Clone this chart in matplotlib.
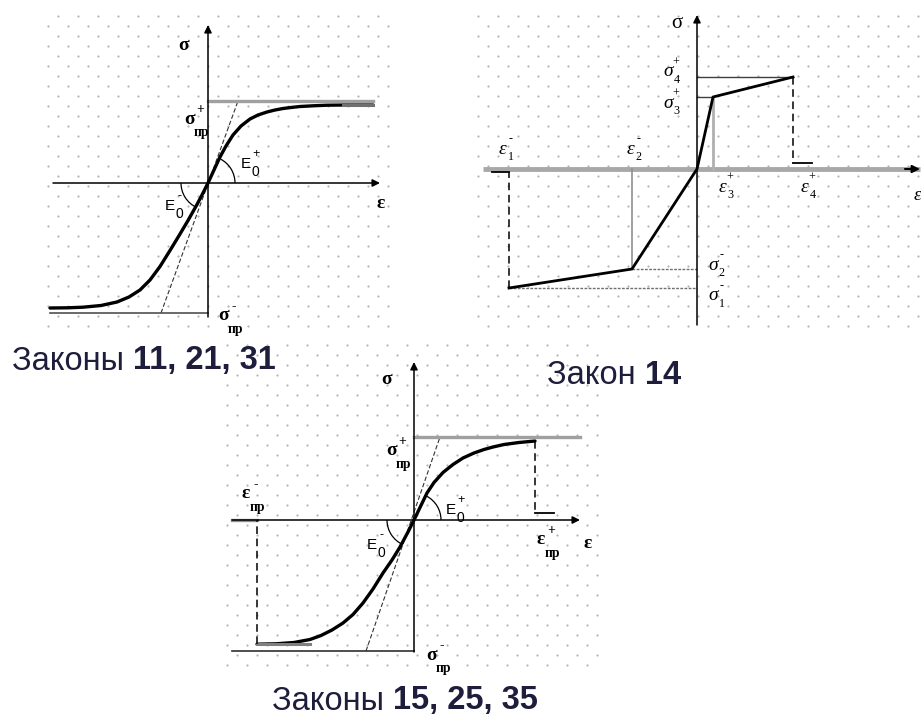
import matplotlib.pyplot as plt
from matplotlib.patches import Arc

W, H = 921, 720
INK = '#1e1e3c'
SERIF = 'Liberation Serif'
SANS = 'Liberation Sans'

# ---- Laws 11, 21, 31  (1 unit = 10 px) ----
p1_sig_pos, p1_sig_neg = 8.2, -13.0
p1_up_x = [0, 0.6, 1.2, 1.8, 2.5, 3.3, 4.2, 5.0, 5.9, 6.7, 7.5, 8.3, 9.2, 10.5, 11.9, 13.5, 16.5]
p1_up_y = [0, 1.3, 2.6, 3.7, 4.8, 5.7, 6.4, 6.8, 7.1, 7.3, 7.45, 7.55, 7.65, 7.72, 7.78, 7.8, 7.8]
p1_lo_x = [0, -0.5, -1.1, -2.0, -2.8, -3.8, -4.8, -5.8, -6.8, -7.9, -9.1, -10.7, -12.5, -14.0, -15.8]
p1_lo_y = [0, -1.0, -2.15, -3.75, -5.1, -6.75, -8.35, -9.7, -10.7, -11.4, -11.9, -12.25, -12.42, -12.48, -12.5]
p1_tan = (-4.7, 3.0)          # tangent E0 between the two limit lines
p1_xaxis = (-15.5, 17.2)
p1_yaxis = (-13.4, 15.8)
p1_left, p1_right = -15.8, 16.5

# ---- Law 14 ----
p2_eps = [-18.8, -6.5, 0.0, 1.6, 9.6]
p2_sig = [-11.9, -10.0, 0.0, 7.2, 9.2]
p2_xaxis = (-21.4, 22.3)
p2_yaxis = (-15.6, 15.4)

# ---- Laws 15, 25, 35 ----
p3_sig_pos, p3_sig_neg = 8.3, -13.1
p3_up_x = [0, 0.6, 1.3, 2.0, 2.9, 3.9, 4.9, 6.0, 7.0, 7.9, 9.0, 10.5, 12.1]
p3_up_y = [0, 1.25, 2.7, 3.75, 4.75, 5.55, 6.2, 6.7, 7.05, 7.3, 7.55, 7.75, 7.9]
p3_lo_x = [0, -0.6, -1.4, -2.2, -3.1, -4.1, -5.1, -6.1, -7.1, -8.2, -9.3, -10.4, -12.0, -13.8, -15.7]
p3_lo_y = [0, -1.2, -2.7, -4.0, -5.3, -6.9, -8.3, -9.45, -10.3, -11.0, -11.55, -11.95, -12.25, -12.38, -12.42]
p3_tan = (-4.8, 2.6)
p3_xaxis = (-18.2, 16.6)
p3_yaxis = (-13.2, 15.8)

fig = plt.figure(figsize=(W / 100, H / 100), dpi=100)
bg = fig.add_axes([0, 0, 1, 1])
bg.set_xlim(0, W)
bg.set_ylim(H, 0)
bg.axis('off')


def dot_field(x0, x1, y0, y1, xs):
    xs_all, ys_all = [], []
    y, row = y0, 0
    while y <= y1:
        x = xs + 10 * (row % 2)
        while x <= x1:
            if x >= x0:
                xs_all.append(x)
                ys_all.append(y)
            x += 20
        y += 10
        row += 1
    bg.plot(xs_all, ys_all, 'o', ms=1.6, mew=0, color='#b4b4b4')


dot_field(40, 392, 16, 334, 18)
dot_field(476, 921, 16, 334, 478)
dot_field(226, 600, 345, 668, 227)


def panel(x0, y0, x1, y1, ox, oy, unit=10):
    ax = fig.add_axes([x0 / W, 1 - y1 / H, (x1 - x0) / W, (y1 - y0) / H])
    ax.set_xlim((x0 - ox) / unit, (x1 - ox) / unit)
    ax.set_ylim((oy - y1) / unit, (oy - y0) / unit)
    ax.axis('off')
    return ax


def arrow(ax, start, end, color='k', lw=1.1):
    ax.annotate('', xy=end, xytext=start,
                arrowprops=dict(arrowstyle='-|>', lw=lw, color=color,
                                mutation_scale=11, shrinkA=0, shrinkB=0))


def sym(ax, x, y, base, sup=None, sub=None, size=14, style='normal',
        weight='bold', dx_sup=0.5, dx_sub=0.6, dy_sub=-0.7, small=0.7):
    ax.text(x, y, base, fontsize=size, family=SERIF, style=style,
            weight=weight, ha='center', va='center')
    if sup:
        ax.annotate(sup, (x, y), xytext=(dx_sup * size, 0.5 * size),
                    textcoords='offset points', fontsize=size * small,
                    family=SERIF, weight=weight, ha='center', va='center')
    if sub:
        ax.annotate(sub, (x, y), xytext=(dx_sub * size, dy_sub * size),
                    textcoords='offset points', fontsize=size * small,
                    family=SERIF, weight=weight, ha='center', va='center')


def modulus(ax, x, y, sup):
    ax.text(x, y, 'E', fontsize=11, family=SANS, ha='center', va='center')
    ax.annotate(sup, (x, y), xytext=(7, 7), textcoords='offset points',
                fontsize=9, family=SANS, ha='center', va='center')
    ax.annotate('0', (x, y), xytext=(7, -6), textcoords='offset points',
                fontsize=10, family=SANS, ha='center', va='center')


def title(x, y, word, nums):
    t = bg.text(x, y, word, fontsize=23.5, family=SANS, color=INK,
                ha='left', va='center')
    bg.annotate(nums, xy=(1, 0), xycoords=t, fontsize=23.5, family=SANS,
                weight='bold', color=INK, ha='left', va='bottom')


def s_curve(ax, up_x, up_y, lo_x, lo_y, sig_pos, sig_neg, tan, xaxis, yaxis):
    arrow(ax, (xaxis[0], 0), (xaxis[1], 0))
    arrow(ax, (0, yaxis[0]), (0, yaxis[1]))
    ax.plot([tan[0], tan[1]], [sig_neg, sig_pos], color='#333333', lw=0.8,
            ls=(0, (4, 2)))
    ax.plot(list(reversed(lo_x)) + up_x[1:], list(reversed(lo_y)) + up_y[1:],
            color='k', lw=2.4, solid_joinstyle='round', solid_capstyle='round')
    ax.add_patch(Arc((0, 0), 5.4, 5.4, theta1=0, theta2=62, lw=0.9))
    ax.add_patch(Arc((0, 0), 5.4, 5.4, theta1=180, theta2=245, lw=0.9))


# ---- panel 1 ----
a1 = panel(0, 0, 400, 340, 208, 183)
s_curve(a1, p1_up_x, p1_up_y, p1_lo_x, p1_lo_y, p1_sig_pos, p1_sig_neg,
        p1_tan, p1_xaxis, p1_yaxis)
a1.plot([0, p1_right], [p1_sig_pos, p1_sig_pos], color='#a0a0a0', lw=2.4)
a1.plot([p1_up_x[-2], p1_right], [p1_up_y[-1], p1_up_y[-1]], color='#707070', lw=2.2)
a1.plot([p1_left, 0], [p1_sig_neg, p1_sig_neg], color='#505050', lw=1.2)
sym(a1, -2.4, 13.8, 'σ')
sym(a1, -1.8, 6.4, 'σ', '+', 'пр')
sym(a1, 1.6, -13.3, 'σ', '-', 'пр')
sym(a1, 17.3, -2.0, 'ε')
modulus(a1, 3.8, 1.9, '+')
modulus(a1, -3.8, -2.3, '-')

# ---- panel 2 ----
a2 = panel(470, 0, 921, 340, 697, 169)
a2.plot(p2_xaxis, [0, 0], color='#a8a8a8', lw=3.5, solid_capstyle='butt')
arrow(a2, (p2_xaxis[1] - 1.5, 0), (p2_xaxis[1], 0), lw=1.5)
arrow(a2, (0, p2_yaxis[0]), (0, p2_yaxis[1]))
e1, e2, _, e3, e4 = p2_eps
s1, s2, _, s3, s4 = p2_sig
a2.plot([0, e4], [s4, s4], color='#404040', lw=1.0)
a2.plot([0, e3], [s3, s3], color='#404040', lw=1.0)
a2.plot([e2, 0], [s2, s2], color='#707070', lw=1.0, ls=(0, (2, 1)))
a2.plot([e1, 0], [s1, s1], color='#707070', lw=1.0, ls=(0, (2, 1)))
a2.plot([e2, e2], [0, s2], color='#909090', lw=1.2)
a2.plot([e3, e3], [0, s3], color='#b0b0b0', lw=2.0)
a2.plot([e4, e4], [s4, 0.6], color='k', lw=1.1, ls=(0, (5, 3)))
a2.plot([e4, e4 + 1.9], [0.6, 0.6], color='k', lw=1.3)
a2.plot([e1, e1], [s1, -0.3], color='k', lw=1.1, ls=(0, (5, 3)))
a2.plot([e1 - 1.7, e1], [-0.3, -0.3], color='k', lw=1.3)
a2.plot(p2_eps, p2_sig, color='k', lw=2.0, solid_joinstyle='round')
kw2 = dict(size=14, style='italic', weight='normal', dx_sup=0.42,
           dx_sub=0.45, dy_sub=-0.42, small=0.62)
sym(a2, -2.0, 14.6, 'σ', size=15, weight='normal')
sym(a2, -2.9, 9.7, 'σ', '+', '4', **kw2)
sym(a2, -2.9, 6.6, 'σ', '+', '3', **kw2)
sym(a2, 1.6, -9.6, 'σ', '-', '2', **kw2)
sym(a2, 1.6, -12.7, 'σ', '-', '1', **kw2)
sym(a2, -19.5, 2.0, 'ε', '-', '1', **kw2)
sym(a2, -6.7, 2.0, 'ε', '-', '2', **kw2)
sym(a2, 2.5, -1.8, 'ε', '+', '3', **kw2)
sym(a2, 10.7, -1.8, 'ε', '+', '4', **kw2)
sym(a2, 22.0, -2.6, 'ε', size=14, style='italic', weight='normal')

# ---- panel 3 ----
a3 = panel(210, 335, 610, 680, 414, 520)
s_curve(a3, p3_up_x, p3_up_y, p3_lo_x, p3_lo_y, p3_sig_pos, p3_sig_neg,
        p3_tan, p3_xaxis, p3_yaxis)
a3.plot([0, p3_xaxis[1]], [p3_sig_pos, p3_sig_pos], color='#a0a0a0', lw=2.4)
a3.plot([p3_xaxis[0], 0], [p3_sig_neg, p3_sig_neg], color='#303030', lw=1.2)
a3.plot([p3_lo_x[-1], p3_lo_x[-4]], [p3_lo_y[-1], p3_lo_y[-1]], color='#808080', lw=2.2)
a3.plot([p3_xaxis[0], p3_lo_x[-1]], [0, 0], color='#909090', lw=2.4)
a3.plot([p3_up_x[-1], p3_up_x[-1]], [p3_up_y[-1], 0.7], color='k', lw=1.1, ls=(0, (5, 3)))
a3.plot([p3_up_x[-1], p3_up_x[-1] + 1.9], [0.7, 0.7], color='k', lw=1.3)
a3.plot([p3_lo_x[-1], p3_lo_x[-1]], [p3_lo_y[-1], 0], color='k', lw=1.1, ls=(0, (5, 3)))
sym(a3, -2.7, 14.0, 'σ')
sym(a3, -2.2, 6.9, 'σ', '+', 'пр')
sym(a3, 1.8, -13.5, 'σ', '-', 'пр')
sym(a3, -16.8, 2.6, 'ε', '-', 'пр')
sym(a3, 12.7, -2.0, 'ε', '+', 'пр')
sym(a3, 17.4, -2.3, 'ε')
modulus(a3, 3.7, 1.0, '+')
modulus(a3, -4.2, -2.5, '-')

title(12, 361, 'Законы ', '11, 21, 31')
title(547, 376, 'Закон ', '14')
title(272, 701, 'Законы ', '15, 25, 35')

fig.savefig('out.png', dpi=100, facecolor='white')
